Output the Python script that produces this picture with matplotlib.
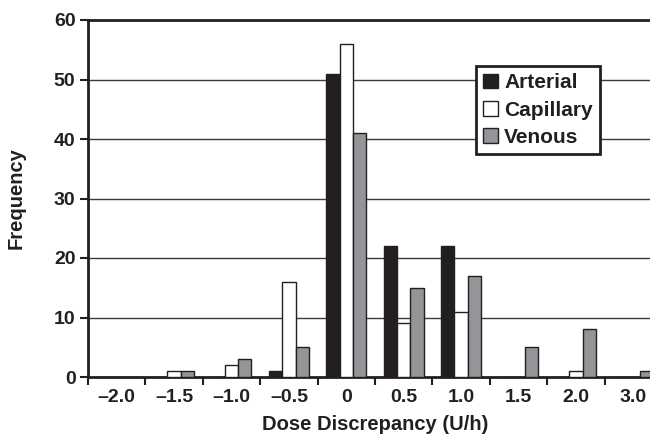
import matplotlib

matplotlib.use("Agg")
import matplotlib.pyplot as plt
import numpy as np

plt.rcParams["font.family"] = ["Liberation Sans", "DejaVu Sans"]
plt.rcParams["font.weight"] = "bold"

categories = ["–2.0", "–1.5", "–1.0", "–0.5", "0", "0.5", "1.0", "1.5", "2.0", "3.0"]
arterial = [0, 0, 0, 1, 51, 22, 22, 0, 0, 0]
capillary = [0, 1, 2, 16, 56, 9, 11, 0, 1, 0]
venous = [0, 1, 3, 5, 41, 15, 17, 5, 8, 1]

INK = "#231f20"
GREY = "#939598"

fig = plt.figure(figsize=(6.5, 4.41), dpi=100)
# axes run a little past the right edge of the canvas
ax = fig.add_axes([88 / 650, 64 / 441, 574 / 650, 357 / 441])

x = np.arange(len(categories))
w = 0.232
bar_kw = dict(width=w, edgecolor=INK, linewidth=1.0, zorder=3)
ax.bar(x - w, arterial, color=INK, label="Arterial", **bar_kw)
ax.bar(x, capillary, color="white", label="Capillary", **bar_kw)
ax.bar(x + w, venous, color=GREY, label="Venous", **bar_kw)

ax.set_xlim(-0.5, len(categories) - 0.5)
ax.set_ylim(0, 60)

# gridlines at each 10
for yv in range(10, 60, 10):
    ax.axhline(yv, color="#3a3a3a", linewidth=1.0, zorder=1)

for side in ("left", "bottom", "top"):
    ax.spines[side].set_linewidth(2.0)
    ax.spines[side].set_color(INK)
ax.spines["right"].set_visible(False)

ax.set_yticks(range(0, 61, 10))
ax.tick_params(axis="y", direction="out", length=6, width=1.5, color=INK,
               labelsize=14, labelcolor=INK, pad=3)

# boundary ticks as majors, category labels as minors
ax.set_xticks(np.arange(-0.5, len(categories), 1.0))
ax.set_xticklabels([])
ax.set_xticks(x, minor=True)
ax.set_xticklabels(categories, minor=True)
ax.tick_params(axis="x", which="major", direction="out", length=6, width=1.5, color=INK)
ax.tick_params(axis="x", which="minor", length=0, labelsize=14, labelcolor=INK, pad=9)

ax.set_xlabel("Dose Discrepancy (U/h)", fontsize=14.5, fontweight="bold", color=INK, labelpad=6)
ax.set_ylabel("Frequency", fontsize=14.5, fontweight="bold", color=INK, labelpad=20)

leg = ax.legend(loc="upper left", bbox_to_anchor=(476 / 650, 1 - 66 / 441),
                bbox_transform=fig.transFigure, borderaxespad=0,
                fancybox=False, framealpha=1, edgecolor=INK,
                prop={"size": 15, "weight": "bold"},
                handlelength=0.7, handleheight=0.7, handletextpad=0.3,
                labelspacing=0.4, borderpad=0.35)
leg.get_frame().set_linewidth(2.0)
leg.set_zorder(5)
for t in leg.get_texts():
    t.set_color(INK)

fig.savefig("out.png", dpi=100)
